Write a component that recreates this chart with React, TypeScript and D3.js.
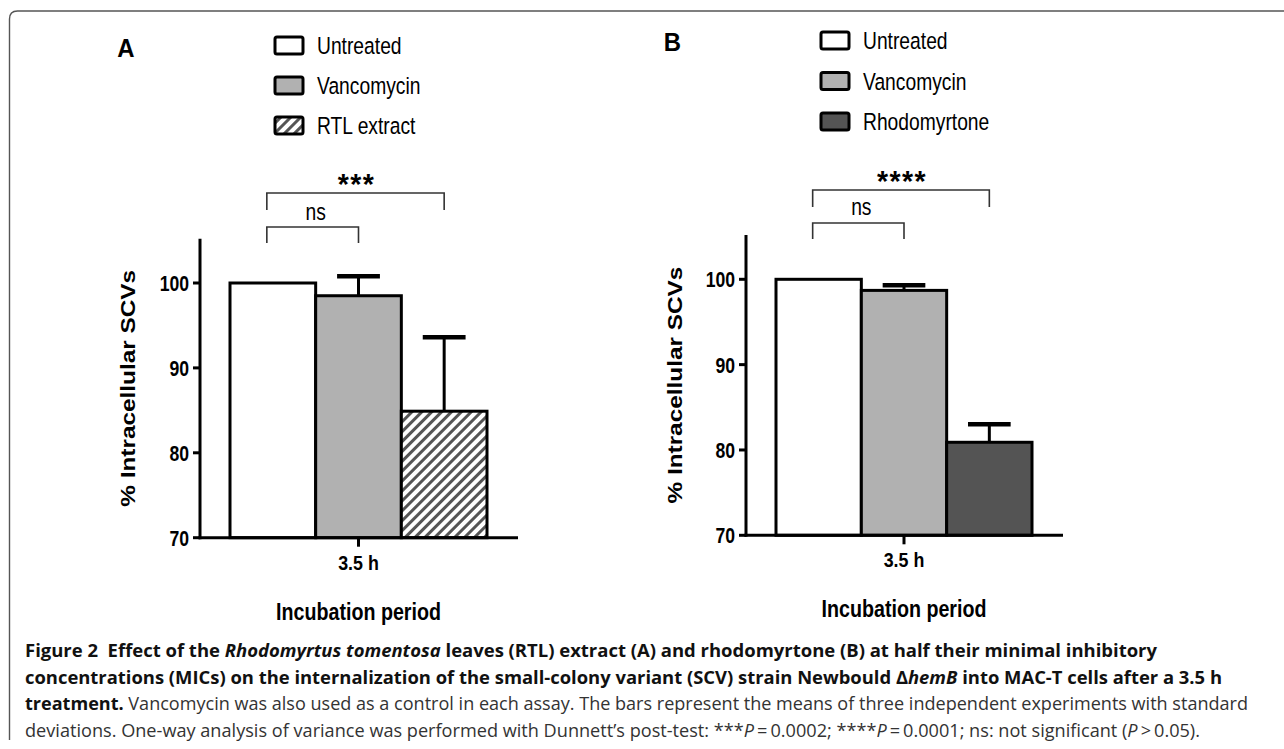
import React from "react";
import * as d3 from "d3";

// panel A: RTL extract assay
const seriesA = ["Untreated", "Vancomycin", "RTL extract"];
const meansA = [100, 98.5, 84.9];
const sdA = [0, 2.3, 8.7];

// panel B: rhodomyrtone assay
const seriesB = ["Untreated", "Vancomycin", "Rhodomyrtone"];
const meansB = [100, 98.7, 80.9];
const sdB = [0, 0.6, 2.1];

const yTicks = [70, 80, 90, 100];
const groupLabel = "3.5 h";
const xTitle = "Incubation period";
const yTitle = "% Intracellular SCVs";

const FONT = "'Liberation Sans', Arial, sans-serif";
const CAP_FONT = "'Open Sans', 'Noto Sans', sans-serif";

type Seg = { t: string; b?: boolean; i?: boolean };
const captionLines: Seg[][] = [
  [
    { t: "Figure 2  Effect of the ", b: true },
    { t: "Rhodomyrtus tomentosa", b: true, i: true },
    { t: " leaves (RTL) extract (A) and rhodomyrtone (B) at half their minimal inhibitory", b: true },
  ],
  [
    { t: "concentrations (MICs) on the internalization of the small-colony variant (SCV) strain Newbould \u0394", b: true },
    { t: "hemB", b: true, i: true },
    { t: " into MAC-T cells after a 3.5 h", b: true },
  ],
  [
    { t: "treatment.", b: true },
    { t: " Vancomycin was also used as a control in each assay. The bars represent the means of three independent experiments with standard" },
  ],
  [
    { t: "deviations. One-way analysis of variance was performed with Dunnett\u2019s post-test: ***" },
    { t: "P", i: true },
    { t: "\u2009=\u20090.0002; ****" },
    { t: "P", i: true },
    { t: "\u2009=\u20090.0001; ns: not significant (" },
    { t: "P", i: true },
    { t: "\u2009>\u20090.05)." },
  ],
];
const captionWidths = [1132, 1197, 1223, 1175];

function T({ x, y, size, bold = false, sx = 0.82, anchor = "middle", rotate = false, spacing = 0, children }: any) {
  return (
    <text
      transform={`translate(${x},${y})${rotate ? " rotate(-90)" : ""} scale(${sx},1)`}
      fontFamily={FONT}
      fontSize={size}
      fontWeight={bold ? "bold" : "normal"}
      textAnchor={anchor}
      letterSpacing={spacing}
      fill="#000"
    >
      {children}
    </text>
  );
}

function Panel({ label, names, means, sds, fills, stars, L }: any) {
  const x = d3.scaleBand().domain(names).range([L.bandL, L.bandR]).padding(0);
  const y = d3.scaleLinear().domain([70, 100]).range([L.y70, L.y100]);
  const bw = x.bandwidth();
  const cx = (n: string) => (x(n) as number) + bw / 2;
  const mid = (L.bandL + L.bandR) / 2;
  const left = cx(names[0]) - 6;

  return (
    <g>
      <T x={L.labelX} y={L.labelY} size={26} bold sx={0.92}>{label}</T>

      {names.map((n: string, i: number) => (
        <g key={n}>
          <rect x={L.legendX} y={L.legendTop + i * L.legendStep} width={28} height={17}
            rx={2} fill={fills[i]} stroke="#000" strokeWidth={3} />
          <T x={L.legendX + 42} y={L.legendTop + i * L.legendStep + 17} size={23.5} anchor="start">{n}</T>
        </g>
      ))}

      {/* significance brackets */}
      <T x={(left + cx(names[2])) / 2 + 1} y={L.starsY} size={30} bold sx={0.95} spacing={1.5}>{stars}</T>
      <path d={`M${left},${L.bracketY + 17}V${L.bracketY}H${cx(names[2])}V${L.bracketY + 17}`}
        fill="none" stroke="#333" strokeWidth={1.6} />
      <T x={(left + cx(names[1])) / 2 + 3} y={L.nsY} size={23.5}>ns</T>
      <path d={`M${left},${L.bracket2Y + 16}V${L.bracket2Y}H${cx(names[1])}V${L.bracket2Y + 16}`}
        fill="none" stroke="#333" strokeWidth={1.6} />

      {/* bars */}
      {names.map((n: string, i: number) => (
        <rect key={n} x={x(n)} y={y(means[i])} width={bw} height={y(70) - y(means[i])}
          fill={fills[i]} stroke="#000" strokeWidth={3} />
      ))}
      {names.map((n: string, i: number) =>
        sds[i] > 0 ? (
          <g key={n} stroke="#000">
            <line x1={cx(n)} x2={cx(n)} y1={y(means[i])} y2={y(means[i] + sds[i])} strokeWidth={3} />
            <line x1={cx(n) - bw / 4} x2={cx(n) + bw / 4} y1={y(means[i] + sds[i])} y2={y(means[i] + sds[i])} strokeWidth={4.5} />
          </g>
        ) : null
      )}

      {/* axes */}
      <line x1={L.x0} x2={L.x0} y1={y(105.2)} y2={y(70) + 1.5} stroke="#000" strokeWidth={3} />
      <line x1={L.x0 - 1.5} x2={L.xEnd} y1={y(70)} y2={y(70)} stroke="#000" strokeWidth={3} />
      {yTicks.map((t) => (
        <g key={t}>
          <line x1={L.x0 - 7} x2={L.x0} y1={y(t)} y2={y(t)} stroke="#000" strokeWidth={3} />
          <T x={L.x0 - 11} y={y(t) + 8} size={22} bold sx={0.8} anchor="end">{t}</T>
        </g>
      ))}
      <line x1={mid} x2={mid} y1={y(70)} y2={y(70) + 9} stroke="#000" strokeWidth={3} />
      <T x={mid} y={y(70) + 32} size={21} bold sx={0.85}>{groupLabel}</T>
      <T x={mid} y={y(70) + 82} size={24} bold sx={0.82}>{xTitle}</T>
      <T x={L.titleX} y={(y(105.2) + y(70)) / 2} size={21} bold sx={1.16} rotate>{yTitle}</T>
    </g>
  );
}

const layoutA = {
  x0: 200, xEnd: 518, bandL: 230, bandR: 487, y70: 537.7, y100: 283,
  titleX: 135, labelX: 126, labelY: 57, legendX: 275, legendTop: 37, legendStep: 40,
  bracketY: 193, bracket2Y: 227, starsY: 194, nsY: 220,
};
const layoutB = {
  x0: 746, xEnd: 1063, bandL: 776, bandR: 1032, y70: 535.3, y100: 279.3,
  titleX: 682, labelX: 672.5, labelY: 51, legendX: 821, legendTop: 32, legendStep: 40.5,
  bracketY: 190, bracket2Y: 223, starsY: 191, nsY: 215,
};

export default function App() {
  return (
    <svg width={1284} height={749} style={{ position: "absolute", left: 0, top: 0, background: "#fff" }}>
      <defs>
        <pattern id="hatch" patternUnits="userSpaceOnUse" width={7} height={7} patternTransform="rotate(45)">
          <rect width={7} height={7} fill="#fff" />
          <rect width={3} height={7} fill="#555" />
        </pattern>
      </defs>

      <path d="M9.5,740 V19 Q9.5,11 17.5,11 H1284" fill="none" stroke="#555" strokeWidth={1.4} />

      <Panel label="A" names={seriesA} means={meansA} sds={sdA}
        fills={["#fff", "#b1b1b1", "url(#hatch)"]} stars="***" L={layoutA} />
      <Panel label="B" names={seriesB} means={meansB} sds={sdB}
        fills={["#fff", "#b1b1b1", "#545454"]} stars="****" L={layoutB} />

      {captionLines.map((segs, li) => (
        <text key={li} x={25} y={657 + li * 26.5} fontFamily={CAP_FONT} fontSize={18}
          textLength={captionWidths[li]} lengthAdjust="spacingAndGlyphs" style={{ whiteSpace: "pre" }}>
          {segs.map((s, si) => (
            <tspan key={si} fontWeight={s.b ? "bold" : "normal"} fontStyle={s.i ? "italic" : "normal"}
              fill={s.b ? "#111" : "#333"}>{s.t}</tspan>
          ))}
        </text>
      ))}
    </svg>
  );
}
